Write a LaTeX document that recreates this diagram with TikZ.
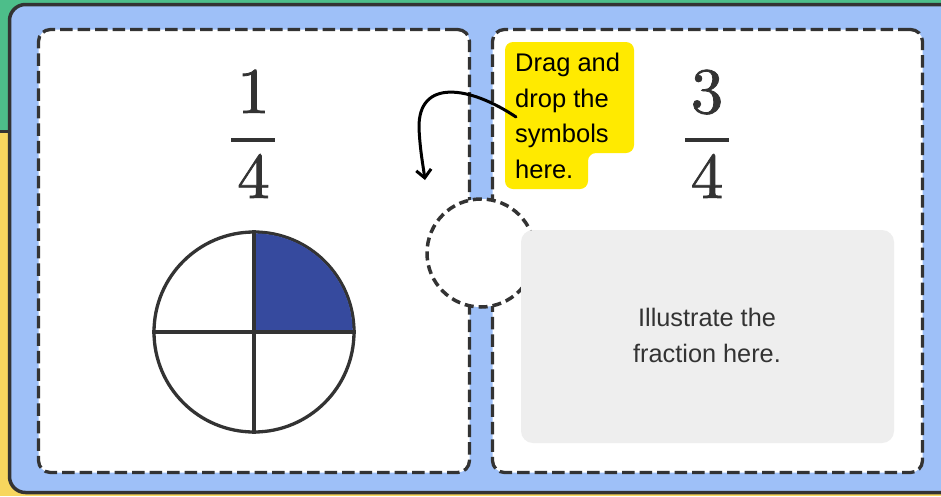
\documentclass[tikz,border=0pt]{standalone}
\usepackage{fontspec}
\newfontfamily\notefont{Liberation Sans}
\newfontfamily\fracfont[Extension=.otf,FakeBold=1.2]{lmroman10-regular}
\usepackage{tikz}
\usetikzlibrary{arrows.meta}
\definecolor{edgegray}{HTML}{333333}
\definecolor{panelblue}{HTML}{9EC0F8}
\definecolor{stripgreen}{HTML}{4DBE8A}
\definecolor{stripyellow}{HTML}{F7D65E}
\definecolor{quarterblue}{HTML}{364A9E}
\definecolor{noteyellow}{HTML}{FFEA00}
\definecolor{boxgray}{HTML}{EEEEEE}
\tikzset{card/.style={draw=edgegray,fill=white,line width=3.3pt,dash pattern=on 12.5pt off 5pt,rounded corners=12pt,inner sep=0pt},
  dropzone/.style={draw=edgegray,fill=white,circle,line width=3.5pt,dash pattern=on 9pt off 5pt,minimum size=108pt,inner sep=0pt},
  fracdigit/.style={font=\fracfont\fontsize{65}{65}\selectfont,text=edgegray,inner sep=0pt,anchor=base},
  fracbar/.style={draw=edgegray,line width=4pt},
  pie/.style={draw=edgegray,fill=white,circle,line width=3.3pt,minimum size=200pt,inner sep=0pt},
  notetext/.style={font=\notefont\fontsize{25.5}{35.4}\selectfont,align=left,inner sep=0pt,anchor=base west},
  hinttext/.style={font=\notefont\fontsize{25.3}{36}\selectfont,text=edgegray,align=center,inner sep=0pt,anchor=base},
  graybox/.style={fill=boxgray,rounded corners=12pt,inner sep=0pt}}

\begin{document}
\begin{tikzpicture}[x=1pt,y=-1pt,>={Straight Barb[length=8pt,width=15pt]}]
    \clip (0,0) rectangle (941,496);

    % backdrop and panel
    \fill[stripyellow] (0,0) rectangle (941,496);
    \fill[stripgreen] (0,0) rectangle (941,132);
    \draw[edgegray,line width=3pt] (0,131.5) -- (12,131.5);
    \draw[edgegray,fill=panelblue,line width=3.5pt,rounded corners=16pt] (9.5,4.5) rectangle (990,492.5);

    % the two cards
    \node[card,minimum width=431pt,minimum height=443pt] (leftcard) at (254,251) {};
    \node[card,minimum width=430pt,minimum height=443pt] (rightcard) at (707.5,251) {};
    \node[dropzone] (dropzone) at (481,253) {};

    % fractions
    \node[fracdigit] (numleft) at (253.5,113) {1};
    \node[fracdigit] (denleft) at (253.5,198) {4};
    \draw[fracbar] (231,140) -- (275,140);
    \node[fracdigit] (numright) at (707,113) {3};
    \node[fracdigit] (denright) at (707,198) {4};
    \draw[fracbar] (685,140) -- (729,140);

    % pie with one quarter shaded
    \node[pie] (pie) at (254,332) {};
    \begin{scope}
      \clip (pie.center) rectangle (360,226);
      \fill[quarterblue] (pie.center) circle[radius=98.6];
    \end{scope}
    \draw[edgegray,line width=3.3pt] (pie.north) -- (pie.south);
    \draw[edgegray,line width=3.3pt] (pie.west) -- (pie.east);

    % answer area
    \node[graybox,minimum width=373pt,minimum height=213pt] (answerbox) at (707.5,336.5) {};
    \node[hinttext] (hint) at (707,362) {Illustrate the\\fraction here.};

    % sticky note and pointer
    \fill[noteyellow,rounded corners=8pt] (505,42) -- (634,42) -- (634,153) -- (588,153) -- (588,189) -- (505,189) -- cycle;
    \node[notetext] (note) at (515,178) {Drag and\\drop the\\symbols\\here.};
    \coordinate (arrowstart) at (516,117);
    \coordinate (arrowend) at (425,180);
    \draw[->,line width=3pt,line cap=round] (arrowstart) .. controls (470,86) and (418,78) .. (419,128) .. controls (420,150) and (423,165) .. (arrowend);
  \end{tikzpicture}
\end{document}
